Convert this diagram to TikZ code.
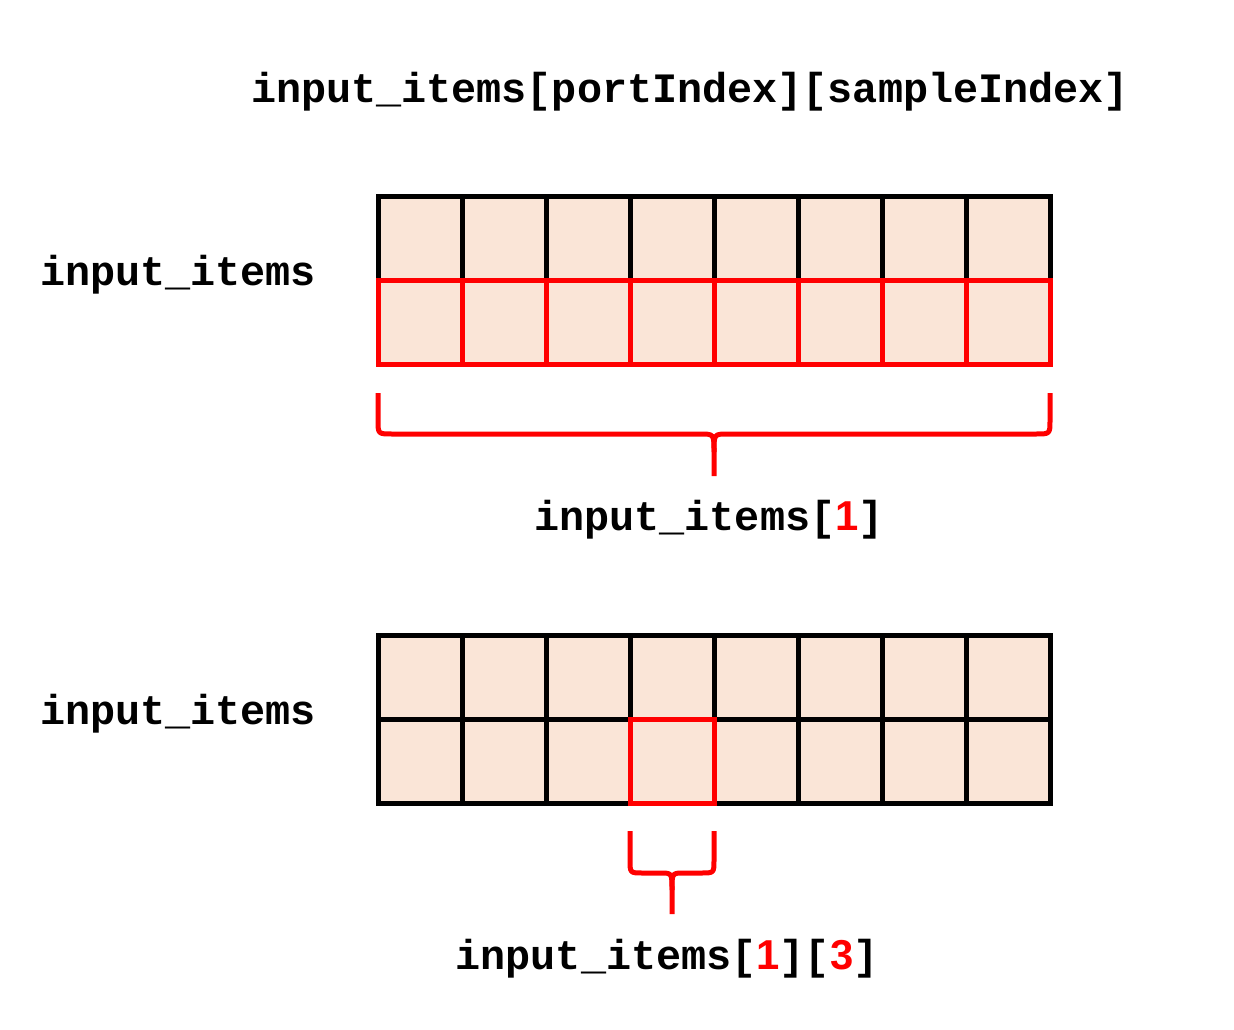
\documentclass[tikz,border=0pt]{standalone}
\usepackage{fontspec}
\setmonofont{Liberation Mono}
\newfontfamily\digitfont{Liberation Sans}
\usetikzlibrary{positioning}
\definecolor{cellColor}{RGB}{250,229,215}
\definecolor{focusColor}{rgb}{1,0,0}
\newcommand{\dig}[1]{{\digitfont\bfseries\textcolor{focusColor}{#1}}}

\begin{document}
\begin{tikzpicture}[x=1pt,y=-1pt]

          \tikzstyle{codeText} = [inner sep=0pt, font=\fontsize{41.8}{42}\selectfont\ttfamily\bfseries];
          \tikzstyle{cellEdge} = [line width=5pt, fill=cellColor];
          \tikzstyle{focusEdge} = [line width=5pt, focusColor];
          \tikzstyle{braceEdge} = [line width=5pt, focusColor, line join=round];

          \useasboundingbox (0,0) rectangle (1234,1030);

          % upper array
          \foreach \col in {0,...,7} {
            \foreach \row in {0,1} {
              \draw[cellEdge] (378+84*\col,196+84*\row) rectangle ++(84,84);
            }
          }
          \foreach \col in {0,...,7} {
            \draw[focusEdge] (378+84*\col,280) rectangle ++(84,84);
          }

          % lower array
          \foreach \col in {0,...,7} {
            \foreach \row in {0,1} {
              \draw[cellEdge] (378+84*\col,635+84*\row) rectangle ++(84,84);
            }
          }
          \draw[focusEdge] (630,719) rectangle ++(84,84);

          % braces
          \draw[braceEdge] (378,393) -- (378,420) .. controls (378,434) .. (392,434)
            -- (700,434) .. controls (714,434) .. (714,452) -- (714,476);
          \draw[braceEdge] (1050,393) -- (1050,420) .. controls (1050,434) .. (1036,434)
            -- (728,434) .. controls (714,434) .. (714,452);
          \draw[braceEdge] (630,831) -- (630,860) .. controls (630,873) .. (643,873)
            -- (660,873) .. controls (672,873) .. (672,890) -- (672,914);
          \draw[braceEdge] (714,831) -- (714,860) .. controls (714,873) .. (701,873)
            -- (684,873) .. controls (672,873) .. (672,890);

          \node[codeText] (title) at (690,92) {input\_items[portIndex][sampleIndex]};
          \node[codeText, anchor=west] (upperName) at (40,275) {input\_items};
          \node[codeText, anchor=west] (lowerName) at (40,714) {input\_items};
          \node[codeText] (port) at (709,520) {input\_items[\dig{1}]};
          \node[codeText] (sample) at (667,959) {input\_items[\dig{1}][\dig{3}]};
        \end{tikzpicture}
\end{document}
